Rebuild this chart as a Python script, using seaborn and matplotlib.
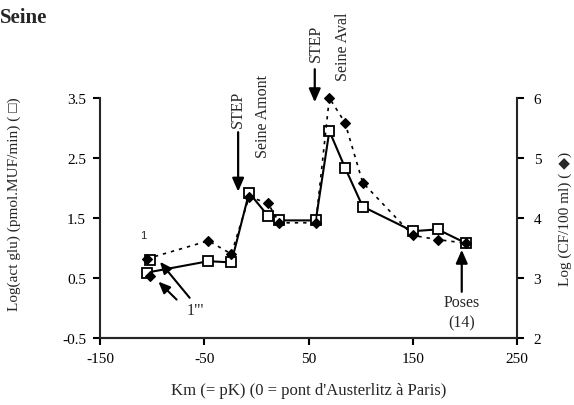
import matplotlib
matplotlib.use("Agg")
import matplotlib.pyplot as plt
import seaborn as sns

# Distance along the Seine (km, 0 = pont d'Austerlitz)
km = [-105, -46, -24, -7, 11, 22, 57, 70, 85, 102, 150, 174, 201]
# Log glucosidase activity (pmol MUF/min)
glu = [0.59, 0.78, 0.76, 1.92, 1.54, 1.46, 1.46, 2.95, 2.34, 1.69, 1.28, 1.31, 1.08]
# Log faecal coliforms (CF/100 ml)
cf = [3.32, 3.62, 3.40, 4.35, 4.25, 3.92, 3.92, 6.00, 5.59, 4.59, 3.71, 3.64, 3.58]

# Station 1''' (single sample)
km_1b = [-102]
glu_1b = [0.80]
cf_1b = [3.04]

x_ticks = [-150, -50, 50, 150, 250]
y_left_ticks = [-0.5, 0.5, 1.5, 2.5, 3.5]
y_right_ticks = [2, 3, 4, 5, 6]

sns.set_style("ticks")
plt.rcParams["font.family"] = ["Liberation Serif", "DejaVu Sans"]
plt.rcParams["axes.linewidth"] = 1.5

fig = plt.figure(figsize=(5.74, 4.06), dpi=100)
ax = fig.add_axes([100 / 574, 1 - 339 / 406, 417 / 574, 240 / 406])
ax2 = ax.twinx()

sq_style = dict(marker="s", markersize=6.5, markerfacecolor="white",
                markeredgecolor="black", markeredgewidth=1.3)
dm_style = dict(marker="D", markersize=5.5, markerfacecolor="black",
                markeredgecolor="black", markeredgewidth=0.8)

sns.lineplot(x=km, y=glu, ax=ax, color="black", linewidth=1.5, sort=False,
             estimator=None, **sq_style)
sns.lineplot(x=km_1b, y=glu_1b, ax=ax, color="black", linewidth=0,
             estimator=None, **sq_style)

sns.lineplot(x=km, y=cf, ax=ax2, color="black", linewidth=1.2, sort=False,
             estimator=None, linestyle=(0, (2, 3)), **dm_style)
sns.lineplot(x=km_1b, y=cf_1b, ax=ax2, color="black", linewidth=0,
             estimator=None, **dm_style)

for a in (ax, ax2):
    for ln in a.lines:
        ln.set_clip_on(False)

ax.set_xlim(-150, 250)
ax.set_ylim(-0.5, 3.5)
ax2.set_ylim(2, 6)
ax.set_xticks(x_ticks)
ax.set_xticklabels([str(v) for v in x_ticks])
ax.set_yticks(y_left_ticks)
ax.set_yticklabels([f"{v:.1f}" for v in y_left_ticks])
ax2.set_yticks(y_right_ticks)
ax2.set_yticklabels([str(v) for v in y_right_ticks])

for a in (ax, ax2):
    a.spines["top"].set_visible(False)
    a.tick_params(direction="out", length=5, width=1.5, labelsize=11,
                  colors="black")
ax.spines["right"].set_visible(False)
ax2.spines["left"].set_visible(False)
ax.tick_params(axis="x", pad=5)
ax.tick_params(axis="y", pad=5)
ax2.tick_params(axis="y", pad=7)

ax.set_xlabel("Km (= pK) (0 = pont d'Austerlitz à Paris)", fontsize=12, labelpad=12)
ax.set_ylabel("Log(act glu) (pmol.MUF/min) ( \u25a1)", fontsize=11, labelpad=12)
ax2.set_ylabel("Log (CF/100 ml) ( \u25c6)", fontsize=11, labelpad=12)
ax.yaxis.set_label_coords(-0.19, 0.56)
ax2.yaxis.set_label_coords(1.1, 0.5)

fig.text(0.0, 1 - 18 / 406, "Seine", fontsize=15, fontweight="bold",
         va="center", ha="left")

arrow = dict(arrowstyle="-|>,head_length=0.8,head_width=0.35", color="black",
             lw=1.6, shrinkA=0, shrinkB=0)

# Upstream treatment plant
ax.text(-17.5, 3.33, "STEP", rotation=90, ha="center", va="center", fontsize=11.5)
ax.annotate("", xy=(-17.5, 1.94), xytext=(-17.5, 2.93), arrowprops=arrow)
ax.text(6.5, 3.21, "Seine Amont", rotation=90, ha="center", va="center",
        fontsize=11.5)

# Downstream treatment plant
ax.text(57, 4.42, "STEP", rotation=90, ha="center", va="center", fontsize=11.5,
        clip_on=False)
ax.annotate("", xy=(56, 3.43), xytext=(56, 3.98), arrowprops=arrow,
            annotation_clip=False)
ax.text(83, 4.37, "Seine Aval", rotation=90, ha="center", va="center",
        fontsize=11.5, clip_on=False)

# Poses
ax.text(197, -0.07, "Poses\n(14)", ha="center", va="center", fontsize=11.5,
        linespacing=1.3)
ax.annotate("", xy=(197, 0.97), xytext=(197, 0.27), arrowprops=arrow)

# Station labels
ax.text(-108.5, 1.22, "1", ha="center", va="center", fontsize=8,
        family="Liberation Sans")
ax.text(-58.5, -0.03, "1\"'", ha="center", va="center", fontsize=11.5)
small_arrow = dict(arrowstyle="-|>,head_length=0.7,head_width=0.3", color="black",
                   lw=1.5, shrinkA=0, shrinkB=0)
ax.annotate("", xy=(-92.5, 0.77), xytext=(-64, 0.17), arrowprops=small_arrow)
ax.annotate("", xy=(-94, 0.44), xytext=(-76.5, 0.14), arrowprops=small_arrow)

fig.savefig("out.png", dpi=100)
